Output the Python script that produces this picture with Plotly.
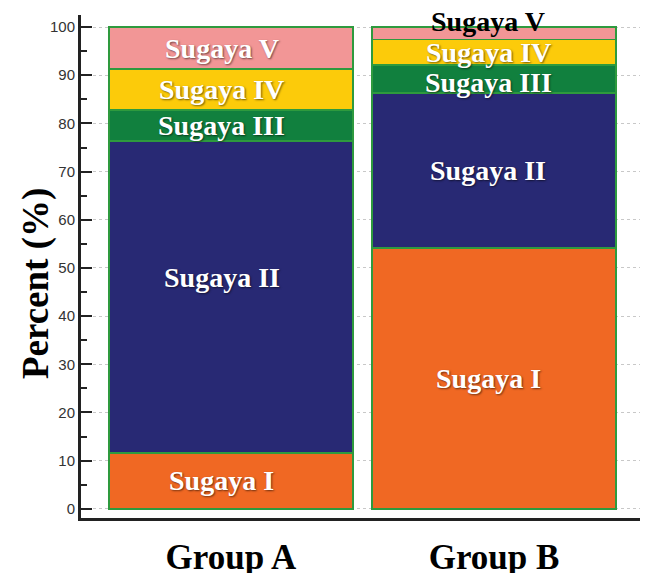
import plotly.graph_objects as go

groups = ["Group A", "Group B"]
stages = ["Sugaya I", "Sugaya II", "Sugaya III", "Sugaya IV", "Sugaya V"]
sugaya_1 = [11.6, 54.1]
sugaya_2 = [64.7, 32.2]
sugaya_3 = [6.5, 5.8]
sugaya_4 = [8.5, 5.3]
sugaya_5 = [8.7, 2.6]
y_ticks = [0, 10, 20, 30, 40, 50, 60, 70, 80, 90, 100]

series = [sugaya_1, sugaya_2, sugaya_3, sugaya_4, sugaya_5]
colors = ["#F06823", "#282974", "#11803E", "#FCCB0A", "#F29696"]
outline = "#2E9A3E"

xpos = list(range(len(groups)))
fig = go.Figure()
for name, vals, col in zip(stages, series, colors):
    fig.add_trace(go.Bar(x=xpos, y=vals, name=name, marker=dict(color=col, line=dict(color=outline, width=1.5)),
                         width=0.928, showlegend=False, hoverinfo="skip"))

# labels at segment centers
label_font = dict(family="Liberation Serif", size=28, color="white",
                  shadow="1px 1px 2px rgba(0,0,0,0.55)")
nudge = {(0, 1): 20, (1, 4): 12, (1, 2): -3}
for gi in xpos:
    base = 0
    for si, vals in enumerate(series):
        v = vals[gi]
        center = base + v / 2
        base += v
        font = dict(label_font)
        if gi == 1 and si == 4:
            font["color"] = "black"
            font["shadow"] = "none"
        fig.add_annotation(x=gi, y=center, text="<b>" + stages[si] + "</b>", showarrow=False,
                           xshift=-9 if gi == 0 else -6, yshift=nudge.get((gi, si), 0), font=font)

fig.add_annotation(x=(36 - 81) / 559, y=0.465, xref="paper", yref="paper", text="<b>Percent (%)</b>",
                   xanchor="center", yanchor="middle",
                   textangle=-90, showarrow=False, font=dict(family="Liberation Serif", size=37, color="black"))

fig.update_layout(
    barmode="stack", width=652, height=573, plot_bgcolor="white", paper_bgcolor="white",
    margin=dict(l=73, r=20, t=7, b=63),
    xaxis=dict(range=[-0.57, 1.555], tickvals=xpos, ticktext=["<b>%s</b>" % g for g in groups],
               tickfont=dict(family="Liberation Serif", size=35, color="black"), showgrid=False, automargin=False,
               showline=True, linecolor="#222", linewidth=3, ticks="", zeroline=False, ticklabelstandoff=6),
    yaxis=dict(range=[-1.9, 102.5], tickvals=y_ticks, tickfont=dict(family="Liberation Sans", size=15, color="#333"),
               showline=True, linecolor="#222", linewidth=3, ticks="inside", ticklen=11, tickwidth=2, automargin=False,
               tickcolor="#222", showgrid=True, gridcolor="#c8c8c8", griddash="dot", gridwidth=1, zeroline=False,
               minor=dict(dtick=5, ticks="inside", ticklen=6, tickwidth=2, tickcolor="#222", showgrid=False)),
)
fig.write_html("out.html")
